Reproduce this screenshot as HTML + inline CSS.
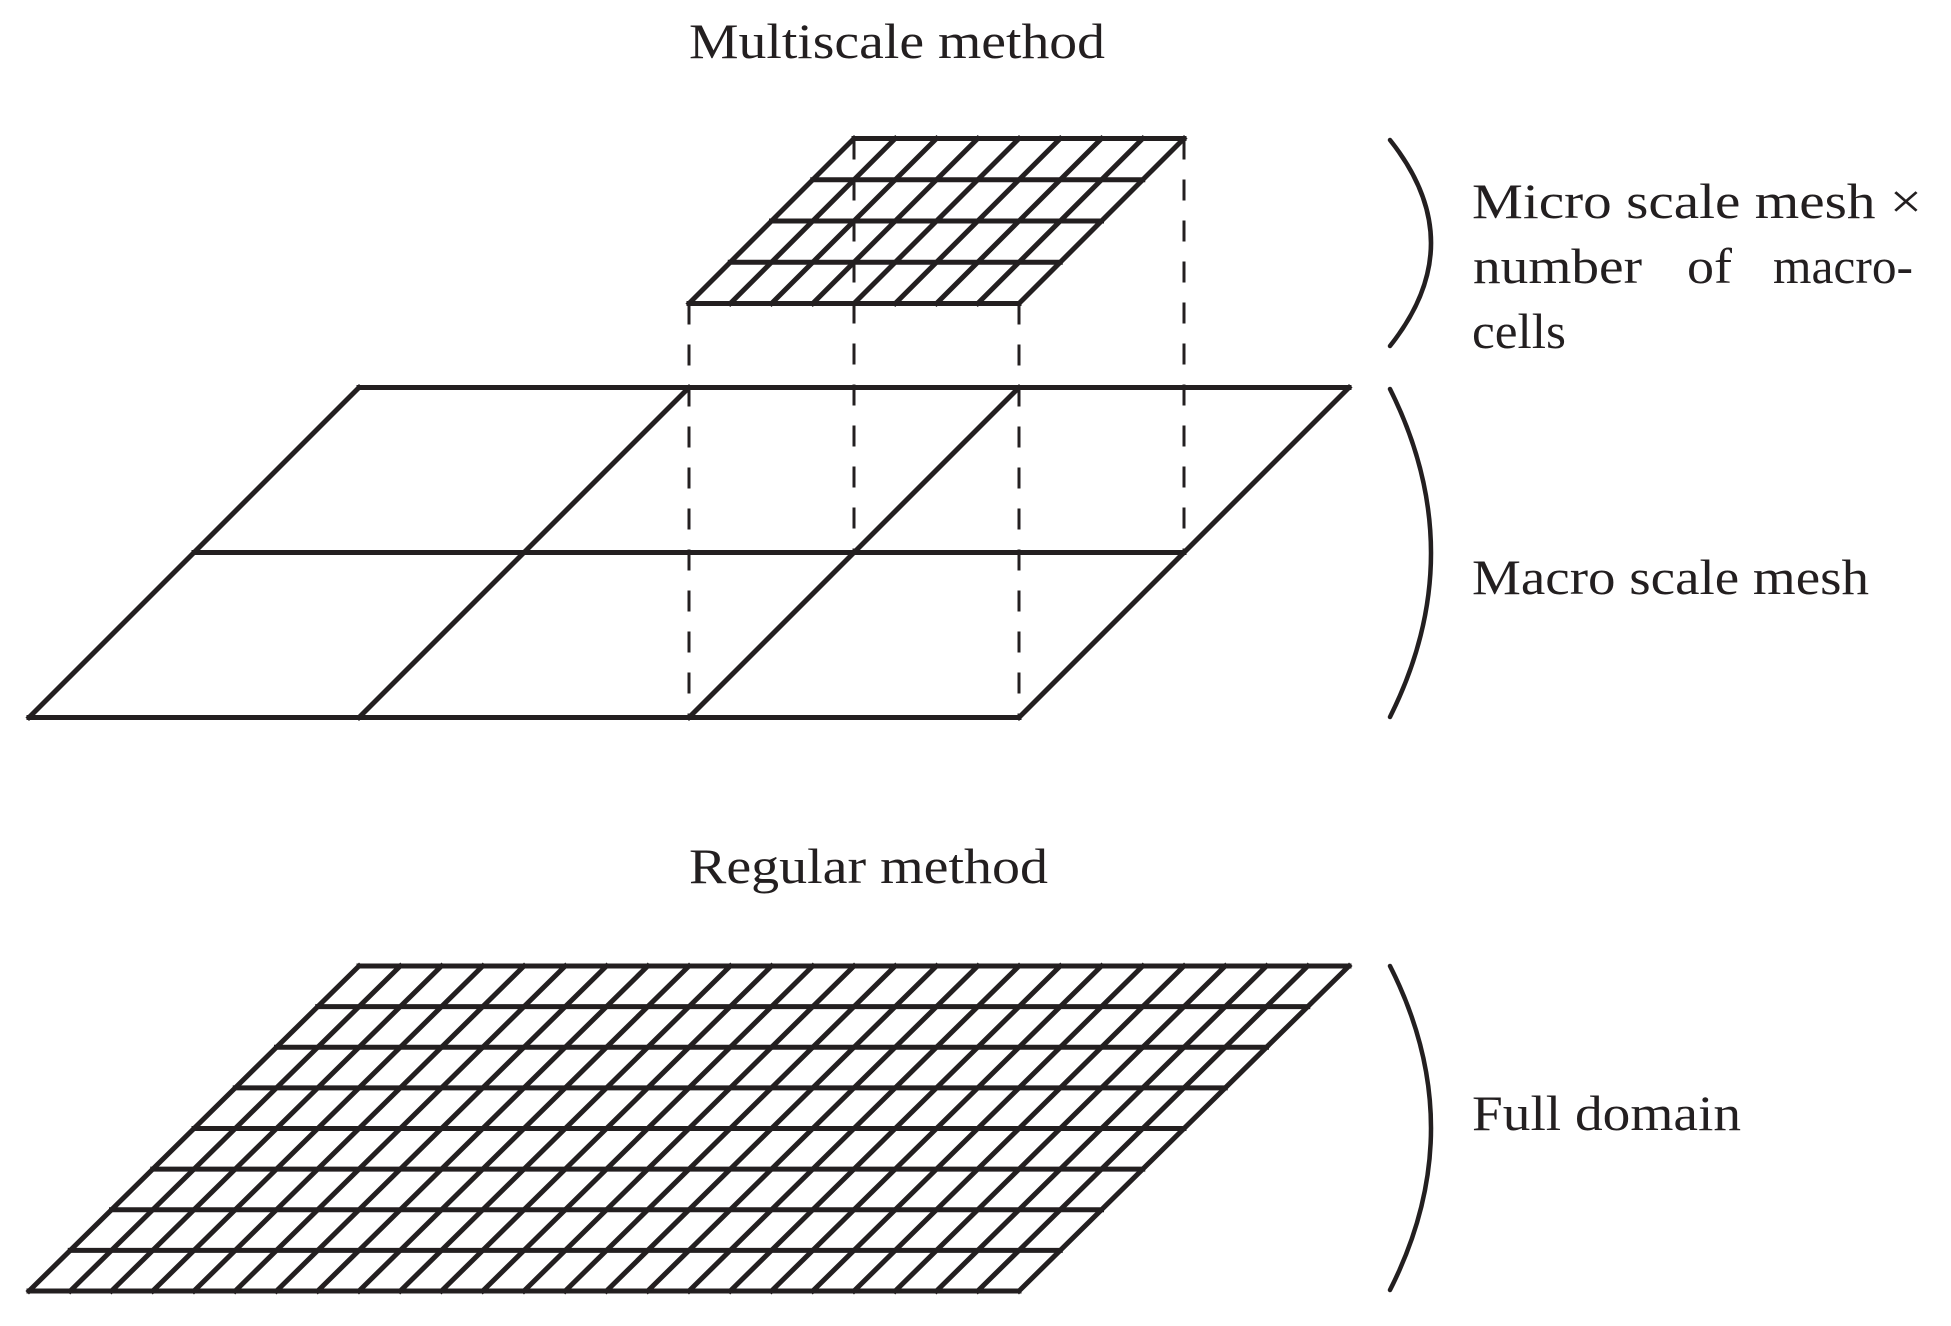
<!DOCTYPE html>
<html><head><meta charset="utf-8"><style>
html,body{margin:0;padding:0;background:#fff;}
svg{display:block;}
text{font-family:"Liberation Serif",serif;font-size:50px;fill:#231f20;}
</style></head><body>
<svg width="1951" height="1326" viewBox="0 0 1951 1326" xmlns="http://www.w3.org/2000/svg">
<g stroke="#231f20" stroke-width="5" stroke-linecap="square" fill="none">
<line x1="854" y1="138.5" x2="1184" y2="138.5"/>
<line x1="812.75" y1="179.75" x2="1142.75" y2="179.75"/>
<line x1="771.5" y1="221" x2="1101.5" y2="221"/>
<line x1="730.25" y1="262.25" x2="1060.25" y2="262.25"/>
<line x1="689" y1="303.5" x2="1019" y2="303.5"/>
<line x1="854" y1="138.5" x2="689" y2="303.5"/>
<line x1="895.25" y1="138.5" x2="730.25" y2="303.5"/>
<line x1="936.5" y1="138.5" x2="771.5" y2="303.5"/>
<line x1="977.75" y1="138.5" x2="812.75" y2="303.5"/>
<line x1="1019" y1="138.5" x2="854" y2="303.5"/>
<line x1="1060.25" y1="138.5" x2="895.25" y2="303.5"/>
<line x1="1101.5" y1="138.5" x2="936.5" y2="303.5"/>
<line x1="1142.75" y1="138.5" x2="977.75" y2="303.5"/>
<line x1="1184" y1="138.5" x2="1019" y2="303.5"/>
<line x1="359" y1="387.5" x2="1349" y2="387.5"/>
<line x1="194" y1="552.5" x2="1184" y2="552.5"/>
<line x1="29" y1="717.5" x2="1019" y2="717.5"/>
<line x1="359" y1="387.5" x2="29" y2="717.5"/>
<line x1="689" y1="387.5" x2="359" y2="717.5"/>
<line x1="1019" y1="387.5" x2="689" y2="717.5"/>
<line x1="1349" y1="387.5" x2="1019" y2="717.5"/>
<line x1="359" y1="966" x2="1349" y2="966"/>
<line x1="317.75" y1="1006.6" x2="1307.75" y2="1006.6"/>
<line x1="276.5" y1="1047.25" x2="1266.5" y2="1047.25"/>
<line x1="235.25" y1="1087.9" x2="1225.25" y2="1087.9"/>
<line x1="194" y1="1128.5" x2="1184" y2="1128.5"/>
<line x1="152.75" y1="1169.1" x2="1142.75" y2="1169.1"/>
<line x1="111.5" y1="1209.75" x2="1101.5" y2="1209.75"/>
<line x1="70.25" y1="1250.4" x2="1060.25" y2="1250.4"/>
<line x1="29" y1="1291" x2="1019" y2="1291"/>
<line x1="359" y1="966" x2="29" y2="1291"/>
<line x1="400.25" y1="966" x2="70.25" y2="1291"/>
<line x1="441.5" y1="966" x2="111.5" y2="1291"/>
<line x1="482.75" y1="966" x2="152.75" y2="1291"/>
<line x1="524" y1="966" x2="194" y2="1291"/>
<line x1="565.25" y1="966" x2="235.25" y2="1291"/>
<line x1="606.5" y1="966" x2="276.5" y2="1291"/>
<line x1="647.75" y1="966" x2="317.75" y2="1291"/>
<line x1="689" y1="966" x2="359" y2="1291"/>
<line x1="730.25" y1="966" x2="400.25" y2="1291"/>
<line x1="771.5" y1="966" x2="441.5" y2="1291"/>
<line x1="812.75" y1="966" x2="482.75" y2="1291"/>
<line x1="854" y1="966" x2="524" y2="1291"/>
<line x1="895.25" y1="966" x2="565.25" y2="1291"/>
<line x1="936.5" y1="966" x2="606.5" y2="1291"/>
<line x1="977.75" y1="966" x2="647.75" y2="1291"/>
<line x1="1019" y1="966" x2="689" y2="1291"/>
<line x1="1060.25" y1="966" x2="730.25" y2="1291"/>
<line x1="1101.5" y1="966" x2="771.5" y2="1291"/>
<line x1="1142.75" y1="966" x2="812.75" y2="1291"/>
<line x1="1184" y1="966" x2="854" y2="1291"/>
<line x1="1225.25" y1="966" x2="895.25" y2="1291"/>
<line x1="1266.5" y1="966" x2="936.5" y2="1291"/>
<line x1="1307.75" y1="966" x2="977.75" y2="1291"/>
<line x1="1349" y1="966" x2="1019" y2="1291"/>
</g>
<g stroke="#231f20" stroke-width="3" stroke-dasharray="21 20" fill="none">
<line x1="689" y1="303.5" x2="689" y2="717.5"/>
<line x1="1019" y1="303.5" x2="1019" y2="717.5"/>
<line x1="854" y1="138.5" x2="854" y2="552.5"/>
<line x1="1184" y1="138.5" x2="1184" y2="552.5"/>
</g>
<g stroke="#231f20" stroke-width="4.5" fill="none" stroke-linecap="round">
<path d="M1390,140 Q1472,243 1390,346"/>
<path d="M1390,389 Q1472,553 1390,717"/>
<path d="M1390,966 Q1472,1128 1390,1290"/>
</g>
<text x="689" y="58" textLength="416" lengthAdjust="spacingAndGlyphs">Multiscale method</text>
<text x="689" y="883" textLength="359" lengthAdjust="spacingAndGlyphs">Regular method</text>
<text x="1472" y="218" textLength="450" lengthAdjust="spacingAndGlyphs">Micro scale mesh ×</text>
<text x="1473" y="283" textLength="169" lengthAdjust="spacingAndGlyphs">number</text>
<text x="1687" y="283" textLength="45" lengthAdjust="spacingAndGlyphs">of</text>
<text x="1773" y="283" textLength="140" lengthAdjust="spacingAndGlyphs">macro-</text>
<text x="1472" y="348" textLength="94" lengthAdjust="spacingAndGlyphs">cells</text>
<text x="1472" y="594" textLength="397" lengthAdjust="spacingAndGlyphs">Macro scale mesh</text>
<text x="1472" y="1130" textLength="269" lengthAdjust="spacingAndGlyphs">Full domain</text>
</svg>
</body></html>
